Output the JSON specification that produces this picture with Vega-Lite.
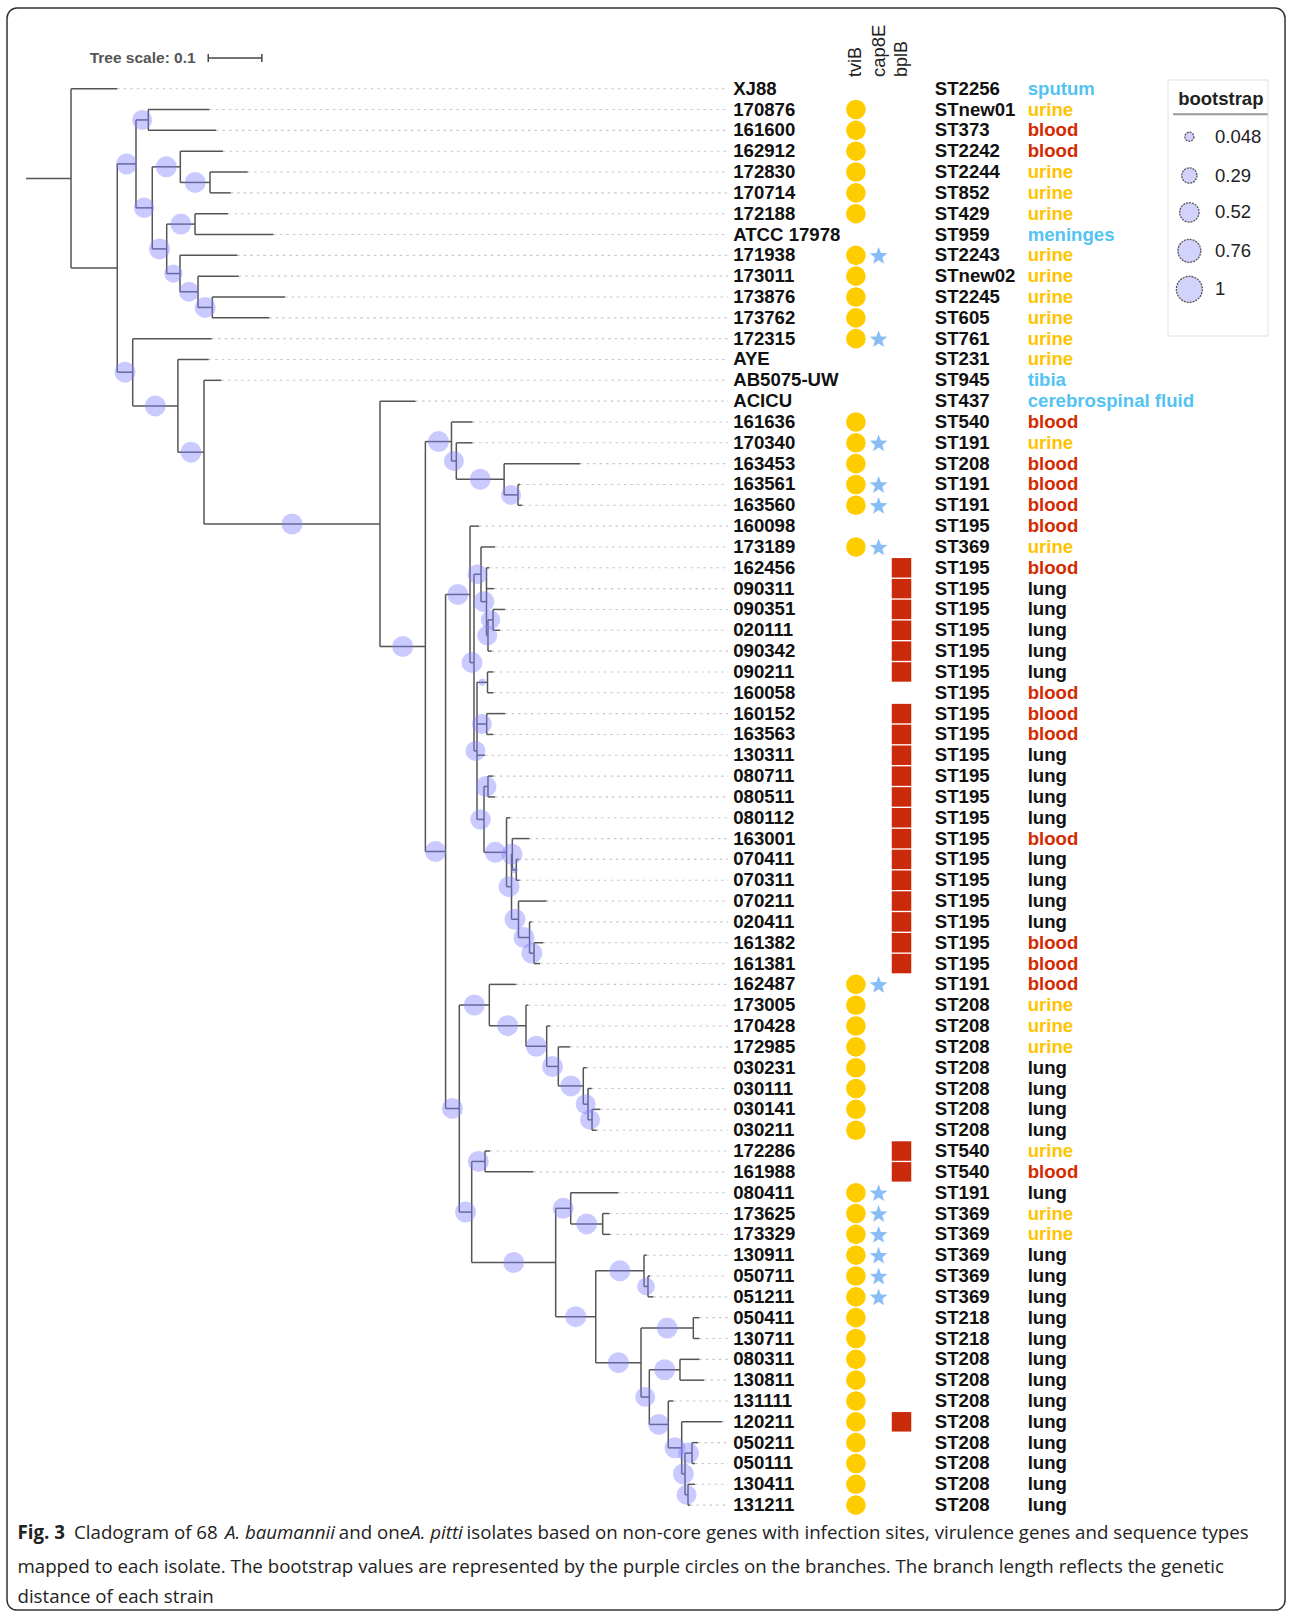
{
"$schema":"https://vega.github.io/schema/vega-lite/v6.json",
"width":1292,"height":1617,"autosize":{"type":"fit","contains":"padding"},"padding":0,
"background":"white",
"config":{"view":{"stroke":null}},
"datasets":{
"leaves":[
{"i":0,"name":"XJ88","px":0.084,"x":0.1703,"t":0,"c":0,"b":0,"st":"ST2256","site":"sputum"},
{"i":1,"name":"170876","px":0.2282,"x":0.342,"t":1,"c":0,"b":0,"st":"STnew01","site":"urine"},
{"i":2,"name":"161600","px":0.2282,"x":0.3545,"t":1,"c":0,"b":0,"st":"ST373","site":"blood"},
{"i":3,"name":"162912","px":0.2879,"x":0.3675,"t":1,"c":0,"b":0,"st":"ST2242","site":"blood"},
{"i":4,"name":"172830","px":0.3433,"x":0.4136,"t":1,"c":0,"b":0,"st":"ST2244","site":"urine"},
{"i":5,"name":"170714","px":0.3433,"x":0.3819,"t":1,"c":0,"b":0,"st":"ST852","site":"urine"},
{"i":6,"name":"172188","px":0.3153,"x":0.3769,"t":1,"c":0,"b":0,"st":"ST429","site":"urine"},
{"i":7,"name":"ATCC 17978","px":0.3153,"x":0.4614,"t":0,"c":0,"b":0,"st":"ST959","site":"meninges"},
{"i":8,"name":"171938","px":0.2873,"x":0.3942,"t":1,"c":1,"b":0,"st":"ST2243","site":"urine"},
{"i":9,"name":"173011","px":0.3209,"x":0.3968,"t":1,"c":0,"b":0,"st":"STnew02","site":"urine"},
{"i":10,"name":"173876","px":0.3476,"x":0.4832,"t":1,"c":0,"b":0,"st":"ST2245","site":"urine"},
{"i":11,"name":"173762","px":0.3476,"x":0.4539,"t":1,"c":0,"b":0,"st":"ST605","site":"urine"},
{"i":12,"name":"172315","px":0.1991,"x":0.3465,"t":1,"c":1,"b":0,"st":"ST761","site":"urine"},
{"i":13,"name":"AYE","px":0.2834,"x":0.3409,"t":0,"c":0,"b":0,"st":"ST231","site":"urine"},
{"i":14,"name":"AB5075-UW","px":0.3321,"x":0.3646,"t":0,"c":0,"b":0,"st":"ST945","site":"tibia"},
{"i":15,"name":"ACICU","px":0.6604,"x":0.7267,"t":0,"c":0,"b":0,"st":"ST437","site":"cerebrospinal fluid"},
{"i":16,"name":"161636","px":0.7938,"x":0.833,"t":1,"c":0,"b":0,"st":"ST540","site":"blood"},
{"i":17,"name":"170340","px":0.8028,"x":0.833,"t":1,"c":1,"b":0,"st":"ST191","site":"urine"},
{"i":18,"name":"163453","px":0.892,"x":1.0336,"t":1,"c":0,"b":0,"st":"ST208","site":"blood"},
{"i":19,"name":"163561","px":0.9179,"x":0.9216,"t":1,"c":1,"b":0,"st":"ST191","site":"blood"},
{"i":20,"name":"163560","px":0.9179,"x":0.9259,"t":1,"c":1,"b":0,"st":"ST191","site":"blood"},
{"i":21,"name":"160098","px":0.8284,"x":0.8451,"t":0,"c":0,"b":0,"st":"ST195","site":"blood"},
{"i":22,"name":"173189","px":0.8489,"x":0.875,"t":1,"c":1,"b":0,"st":"ST369","site":"urine"},
{"i":23,"name":"162456","px":0.8591,"x":0.8638,"t":0,"c":0,"b":1,"st":"ST195","site":"blood"},
{"i":24,"name":"090311","px":0.8591,"x":0.8731,"t":0,"c":0,"b":1,"st":"ST195","site":"lung"},
{"i":25,"name":"090351","px":0.8713,"x":0.8937,"t":0,"c":0,"b":1,"st":"ST195","site":"lung"},
{"i":26,"name":"020111","px":0.8713,"x":0.8843,"t":0,"c":0,"b":1,"st":"ST195","site":"lung"},
{"i":27,"name":"090342","px":0.8619,"x":0.8688,"t":0,"c":0,"b":1,"st":"ST195","site":"lung"},
{"i":28,"name":"090211","px":0.861,"x":0.8718,"t":0,"c":0,"b":1,"st":"ST195","site":"lung"},
{"i":29,"name":"160058","px":0.861,"x":0.8718,"t":0,"c":0,"b":0,"st":"ST195","site":"blood"},
{"i":30,"name":"160152","px":0.8595,"x":0.8937,"t":0,"c":0,"b":1,"st":"ST195","site":"blood"},
{"i":31,"name":"163563","px":0.8595,"x":0.8718,"t":0,"c":0,"b":1,"st":"ST195","site":"blood"},
{"i":32,"name":"130311","px":0.8414,"x":0.8563,"t":0,"c":0,"b":1,"st":"ST195","site":"lung"},
{"i":33,"name":"080711","px":0.8619,"x":0.8718,"t":0,"c":0,"b":1,"st":"ST195","site":"lung"},
{"i":34,"name":"080511","px":0.8619,"x":0.875,"t":0,"c":0,"b":1,"st":"ST195","site":"lung"},
{"i":35,"name":"080112","px":0.8965,"x":0.903,"t":0,"c":0,"b":1,"st":"ST195","site":"lung"},
{"i":36,"name":"163001","px":0.9073,"x":0.939,"t":0,"c":0,"b":1,"st":"ST195","site":"blood"},
{"i":37,"name":"070411","px":0.9147,"x":0.9188,"t":0,"c":0,"b":1,"st":"ST195","site":"lung"},
{"i":38,"name":"070311","px":0.9147,"x":0.9207,"t":0,"c":0,"b":1,"st":"ST195","site":"lung"},
{"i":39,"name":"070211","px":0.9188,"x":0.9714,"t":0,"c":0,"b":1,"st":"ST195","site":"lung"},
{"i":40,"name":"020411","px":0.9394,"x":0.9435,"t":0,"c":0,"b":1,"st":"ST195","site":"lung"},
{"i":41,"name":"161382","px":0.9478,"x":0.9651,"t":0,"c":0,"b":1,"st":"ST195","site":"blood"},
{"i":42,"name":"161381","px":0.9478,"x":0.959,"t":0,"c":0,"b":1,"st":"ST195","site":"blood"},
{"i":43,"name":"162487","px":0.8644,"x":0.9142,"t":1,"c":1,"b":0,"st":"ST191","site":"blood"},
{"i":44,"name":"173005","px":0.9328,"x":0.9371,"t":1,"c":0,"b":0,"st":"ST208","site":"urine"},
{"i":45,"name":"170428","px":0.9714,"x":0.9776,"t":1,"c":0,"b":0,"st":"ST208","site":"urine"},
{"i":46,"name":"172985","px":0.9931,"x":1.0149,"t":1,"c":0,"b":0,"st":"ST208","site":"urine"},
{"i":47,"name":"030231","px":1.0397,"x":1.0461,"t":1,"c":0,"b":0,"st":"ST208","site":"lung"},
{"i":48,"name":"030111","px":1.0485,"x":1.0554,"t":1,"c":0,"b":0,"st":"ST208","site":"lung"},
{"i":49,"name":"030141","px":1.056,"x":1.0709,"t":1,"c":0,"b":0,"st":"ST208","site":"lung"},
{"i":50,"name":"030211","px":1.056,"x":1.0647,"t":1,"c":0,"b":0,"st":"ST208","site":"lung"},
{"i":51,"name":"172286","px":0.8563,"x":0.8657,"t":0,"c":0,"b":1,"st":"ST540","site":"urine"},
{"i":52,"name":"161988","px":0.8563,"x":0.9465,"t":0,"c":0,"b":1,"st":"ST540","site":"blood"},
{"i":53,"name":"080411","px":1.0162,"x":1.105,"t":1,"c":1,"b":0,"st":"ST191","site":"lung"},
{"i":54,"name":"173625","px":1.0759,"x":1.0883,"t":1,"c":1,"b":0,"st":"ST369","site":"urine"},
{"i":55,"name":"173329","px":1.0759,"x":1.0896,"t":1,"c":1,"b":0,"st":"ST369","site":"urine"},
{"i":56,"name":"130911","px":1.153,"x":1.158,"t":1,"c":1,"b":0,"st":"ST369","site":"lung"},
{"i":57,"name":"050711","px":1.1604,"x":1.1642,"t":1,"c":1,"b":0,"st":"ST369","site":"lung"},
{"i":58,"name":"051211","px":1.1604,"x":1.1703,"t":1,"c":1,"b":0,"st":"ST369","site":"lung"},
{"i":59,"name":"050411","px":1.245,"x":1.2562,"t":1,"c":0,"b":0,"st":"ST218","site":"lung"},
{"i":60,"name":"130711","px":1.245,"x":1.2562,"t":1,"c":0,"b":0,"st":"ST218","site":"lung"},
{"i":61,"name":"080311","px":1.2201,"x":1.2562,"t":1,"c":0,"b":0,"st":"ST208","site":"lung"},
{"i":62,"name":"130811","px":1.2201,"x":1.2649,"t":1,"c":0,"b":0,"st":"ST208","site":"lung"},
{"i":63,"name":"131111","px":1.1983,"x":1.2076,"t":1,"c":0,"b":0,"st":"ST208","site":"lung"},
{"i":64,"name":"120211","px":1.2233,"x":1.2985,"t":1,"c":0,"b":1,"st":"ST208","site":"lung"},
{"i":65,"name":"050211","px":1.2425,"x":1.2537,"t":1,"c":0,"b":0,"st":"ST208","site":"lung"},
{"i":66,"name":"050111","px":1.2425,"x":1.2481,"t":1,"c":0,"b":0,"st":"ST208","site":"lung"},
{"i":67,"name":"130411","px":1.2351,"x":1.2481,"t":1,"c":0,"b":0,"st":"ST208","site":"lung"},
{"i":68,"name":"131211","px":1.2351,"x":1.2388,"t":1,"c":0,"b":0,"st":"ST208","site":"lung"}
],
"nodes":[
{"id":"root","px":0,"x":0.084,"y":4.31,"y1":0,"y2":8.61,"bs":null,"cx":null},
{"id":"A","px":0.084,"x":0.1703,"y":8.61,"y1":3.61,"y2":13.61,"bs":null,"cx":null},
{"id":"B","px":0.1703,"x":0.2052,"y":3.61,"y1":1.5,"y2":5.72,"bs":1,"cx":0.1878},
{"id":"B1","px":0.2052,"x":0.2282,"y":1.5,"y1":1,"y2":2,"bs":0.9,"cx":0.2167},
{"id":"B2","px":0.2052,"x":0.2356,"y":5.72,"y1":3.75,"y2":7.69,"bs":0.95,"cx":0.2204},
{"id":"B2a","px":0.2356,"x":0.2879,"y":3.75,"y1":3,"y2":4.5,"bs":1,"cx":0.2618},
{"id":"B2a2","px":0.2879,"x":0.3433,"y":4.5,"y1":4,"y2":5,"bs":1,"cx":0.3156},
{"id":"B2b","px":0.2356,"x":0.2625,"y":7.69,"y1":6.5,"y2":8.875,"bs":1,"cx":0.2491},
{"id":"B2b1","px":0.2625,"x":0.3153,"y":6.5,"y1":6,"y2":7,"bs":1,"cx":0.2889},
{"id":"B2b2","px":0.2625,"x":0.2873,"y":8.875,"y1":8,"y2":9.75,"bs":0.75,"cx":0.2749},
{"id":"B2b2b","px":0.2873,"x":0.3209,"y":9.75,"y1":9,"y2":10.5,"bs":0.9,"cx":0.3041},
{"id":"B2b2c","px":0.3209,"x":0.3476,"y":10.5,"y1":10,"y2":11,"bs":1,"cx":0.3343},
{"id":"C","px":0.1703,"x":0.1991,"y":13.61,"y1":12,"y2":15.23,"bs":1,"cx":0.1847},
{"id":"D","px":0.1991,"x":0.2834,"y":15.23,"y1":13,"y2":17.45,"bs":1,"cx":0.2413},
{"id":"E","px":0.2834,"x":0.3321,"y":17.45,"y1":14,"y2":20.9,"bs":1,"cx":0.3078},
{"id":"F","px":0.3321,"x":0.6604,"y":20.9,"y1":15,"y2":26.78,"bs":1,"cx":0.4963},
{"id":"G","px":0.6604,"x":0.7451,"y":26.78,"y1":16.94,"y2":36.62,"bs":1,"cx":0.7028},
{"id":"H","px":0.7451,"x":0.7938,"y":16.94,"y1":16,"y2":17.875,"bs":1,"cx":0.7695},
{"id":"J","px":0.7938,"x":0.8028,"y":17.875,"y1":17,"y2":18.75,"bs":0.9,"cx":0.7983},
{"id":"K","px":0.8028,"x":0.892,"y":18.75,"y1":18,"y2":19.5,"bs":1,"cx":0.8474},
{"id":"L","px":0.892,"x":0.9179,"y":19.5,"y1":19,"y2":20,"bs":0.9,"cx":0.905},
{"id":"I","px":0.7451,"x":0.7828,"y":36.62,"y1":24.28,"y2":48.96,"bs":1,"cx":0.764},
{"id":"M","px":0.7828,"x":0.8284,"y":24.28,"y1":21,"y2":27.55,"bs":1,"cx":0.8056},
{"id":"N","px":0.8284,"x":0.8358,"y":27.55,"y1":23.31,"y2":31.79,"bs":1,"cx":0.8321},
{"id":"P","px":0.8358,"x":0.8489,"y":23.31,"y1":22,"y2":24.625,"bs":0.9,"cx":0.8424},
{"id":"Q","px":0.8489,"x":0.8591,"y":24.625,"y1":23,"y2":26.25,"bs":1,"cx":0.854},
{"id":"S","px":0.8591,"x":0.8619,"y":26.25,"y1":25.5,"y2":27,"bs":0.9,"cx":0.8605},
{"id":"R","px":0.8619,"x":0.8713,"y":25.5,"y1":25,"y2":26,"bs":0.85,"cx":0.8666},
{"id":"U","px":0.8358,"x":0.8414,"y":31.79,"y1":28.5,"y2":35.08,"bs":0.9,"cx":0.8386},
{"id":"s2","px":0.8414,"x":0.861,"y":28.5,"y1":28,"y2":29,"bs":0.05,"cx":0.8512},
{"id":"V","px":0.8414,"x":0.8595,"y":30.5,"y1":30,"y2":31,"bs":0.9,"cx":0.8505},
{"id":"T","px":0.8414,"x":0.8545,"y":35.08,"y1":33.5,"y2":36.66,"bs":0.95,"cx":0.848},
{"id":"W","px":0.8545,"x":0.8619,"y":33.5,"y1":33,"y2":34,"bs":1,"cx":0.8582},
{"id":"X","px":0.8545,"x":0.8965,"y":36.66,"y1":35,"y2":38.31,"bs":1,"cx":0.8755},
{"id":"Y","px":0.8965,"x":0.9058,"y":38.31,"y1":36.75,"y2":39.875,"bs":1,"cx":0.9012},
{"id":"Z1","px":0.9058,"x":0.9073,"y":36.75,"y1":36,"y2":37.5,"bs":1,"cx":0.9066},
{"id":"Z1b","px":0.9073,"x":0.9147,"y":37.5,"y1":37,"y2":38,"bs":0.05,"cx":0.911},
{"id":"Z2","px":0.9058,"x":0.9188,"y":39.875,"y1":39,"y2":40.75,"bs":1,"cx":0.9123},
{"id":"Z2b","px":0.9188,"x":0.9394,"y":40.75,"y1":40,"y2":41.5,"bs":1,"cx":0.9291},
{"id":"Z2c","px":0.9394,"x":0.9478,"y":41.5,"y1":41,"y2":42,"bs":1,"cx":0.9436},
{"id":"O","px":0.7828,"x":0.8084,"y":48.96,"y1":43.99,"y2":53.93,"bs":1,"cx":0.7956},
{"id":"O1","px":0.8084,"x":0.8644,"y":43.99,"y1":43,"y2":44.98,"bs":1,"cx":0.8364},
{"id":"O1b","px":0.8644,"x":0.9328,"y":44.98,"y1":44,"y2":45.97,"bs":1,"cx":0.8986},
{"id":"O1c","px":0.9328,"x":0.9714,"y":45.97,"y1":45,"y2":46.94,"bs":1,"cx":0.9521},
{"id":"O1d","px":0.9714,"x":0.9931,"y":46.94,"y1":46,"y2":47.875,"bs":1,"cx":0.9823},
{"id":"O1e","px":0.9931,"x":1.0397,"y":47.875,"y1":47,"y2":48.75,"bs":1,"cx":1.0164},
{"id":"O1f","px":1.0397,"x":1.0485,"y":48.75,"y1":48,"y2":49.5,"bs":0.9,"cx":1.0441},
{"id":"O1g","px":1.0485,"x":1.056,"y":49.5,"y1":49,"y2":50,"bs":0.9,"cx":1.0523},
{"id":"O2","px":0.8084,"x":0.8315,"y":53.93,"y1":51.5,"y2":56.35,"bs":1,"cx":0.82},
{"id":"O2a","px":0.8315,"x":0.8563,"y":51.5,"y1":51,"y2":52,"bs":1,"cx":0.8439},
{"id":"O2b","px":0.8315,"x":0.9882,"y":56.35,"y1":53.75,"y2":58.95,"bs":1,"cx":0.9099},
{"id":"P1","px":0.9882,"x":1.0162,"y":53.75,"y1":53,"y2":54.5,"bs":1,"cx":1.0022},
{"id":"P2","px":1.0162,"x":1.0759,"y":54.5,"y1":54,"y2":55,"bs":1,"cx":1.0461},
{"id":"P3","px":0.9882,"x":1.0629,"y":58.95,"y1":56.75,"y2":61.16,"bs":1,"cx":1.0256},
{"id":"P4","px":1.0629,"x":1.153,"y":56.75,"y1":56,"y2":57.5,"bs":1,"cx":1.108},
{"id":"P5","px":1.153,"x":1.1604,"y":57.5,"y1":57,"y2":58,"bs":0.7,"cx":1.1567},
{"id":"P6","px":1.0629,"x":1.1474,"y":61.16,"y1":59.5,"y2":62.81,"bs":1,"cx":1.1052},
{"id":"P7","px":1.1474,"x":1.245,"y":59.5,"y1":59,"y2":60,"bs":1,"cx":1.1962},
{"id":"P8","px":1.1474,"x":1.1629,"y":62.81,"y1":61.5,"y2":64.125,"bs":0.9,"cx":1.1552},
{"id":"P9","px":1.1629,"x":1.2201,"y":61.5,"y1":61,"y2":62,"bs":1,"cx":1.1915},
{"id":"P10","px":1.1629,"x":1.1983,"y":64.125,"y1":63,"y2":65.25,"bs":1,"cx":1.1806},
{"id":"P11","px":1.1983,"x":1.2233,"y":65.25,"y1":64,"y2":66.5,"bs":1,"cx":1.2108},
{"id":"P12","px":1.2233,"x":1.2295,"y":66.5,"y1":65.5,"y2":67.5,"bs":1,"cx":1.2264},
{"id":"P13","px":1.2295,"x":1.2425,"y":65.5,"y1":65,"y2":66,"bs":1,"cx":1.236},
{"id":"P14","px":1.2295,"x":1.2351,"y":67.5,"y1":67,"y2":68,"bs":0.9,"cx":1.2323}
],
"legend":[
{"value":0.048,"label":"0.048"},{"value":0.29,"label":"0.29"},{"value":0.52,"label":"0.52"},{"value":0.76,"label":"0.76"},{"value":1,"label":"1"}
]
},
"layer":[
{"layer":[
{"data":{"values":[{}]},"mark":{"type":"rect","fill":"white","stroke":"#333333","strokeWidth":1.5,"cornerRadius":10},
 "encoding":{"x":{"datum":-0.0354,"type":"quantitative","scale":{"domain":[-0.0485,2.3619],"nice":false,"zero":false},"axis":null},"x2":{"datum":2.3489},
 "y":{"datum":-3.874,"type":"quantitative","scale":{"domain":[-4.2583,73.3701],"nice":false,"zero":false,"reverse":true},"axis":null},"y2":{"datum":73.04}}},
{"data":{"name":"leaves"},"mark":{"type":"rule","stroke":"#c8c8c8","strokeWidth":1.1,"strokeDash":[2.5,4]},
 "encoding":{"x":{"field":"x","type":"quantitative","scale":{"domain":[-0.0485,2.3619],"nice":false,"zero":false},"axis":null},"x2":{"datum":1.3097},
 "y":{"field":"i","type":"quantitative","scale":{"domain":[-4.2583,73.3701],"nice":false,"zero":false,"reverse":true},"axis":null}}},
{"data":{"name":"leaves"},"mark":{"type":"rule","stroke":"#555555","strokeWidth":1.5},
 "encoding":{"x":{"field":"px","type":"quantitative","scale":{"domain":[-0.0485,2.3619],"nice":false,"zero":false},"axis":null},"x2":{"field":"x"},
 "y":{"field":"i","type":"quantitative","scale":{"domain":[-4.2583,73.3701],"nice":false,"zero":false,"reverse":true},"axis":null}}},
{"data":{"name":"nodes"},"mark":{"type":"rule","stroke":"#555555","strokeWidth":1.5},
 "encoding":{"x":{"field":"px","type":"quantitative","scale":{"domain":[-0.0485,2.3619],"nice":false,"zero":false},"axis":null},"x2":{"field":"x"},
 "y":{"field":"y","type":"quantitative","scale":{"domain":[-4.2583,73.3701],"nice":false,"zero":false,"reverse":true},"axis":null}}},
{"data":{"name":"nodes"},"mark":{"type":"rule","stroke":"#555555","strokeWidth":1.5},
 "encoding":{"x":{"field":"x","type":"quantitative","scale":{"domain":[-0.0485,2.3619],"nice":false,"zero":false},"axis":null},
 "y":{"field":"y1","type":"quantitative","scale":{"domain":[-4.2583,73.3701],"nice":false,"zero":false,"reverse":true},"axis":null},"y2":{"field":"y2"}}},
{"data":{"name":"nodes"},"transform":[{"filter":"datum.bs != null"}],"mark":{"type":"circle","fill":"#8080ff","opacity":0.42,"strokeWidth":0},
 "encoding":{"x":{"field":"cx","type":"quantitative","scale":{"domain":[-0.0485,2.3619],"nice":false,"zero":false},"axis":null},
 "y":{"field":"y","type":"quantitative","scale":{"domain":[-4.2583,73.3701],"nice":false,"zero":false,"reverse":true},"axis":null},
 "size":{"field":"bs","type":"quantitative","scale":{"domain":[0,1],"range":[28,441]},"legend":null}}},
{"data":{"name":"leaves"},"transform":[{"filter":"datum.t == 1"}],"mark":{"type":"circle","fill":"#FFCC00","opacity":1,"size":384},
 "encoding":{"x":{"datum":1.5483,"type":"quantitative","scale":{"domain":[-0.0485,2.3619],"nice":false,"zero":false},"axis":null},
 "y":{"field":"i","type":"quantitative","scale":{"domain":[-4.2583,73.3701],"nice":false,"zero":false,"reverse":true},"axis":null}}},
{"data":{"name":"leaves"},"transform":[{"filter":"datum.c == 1"}],"mark":{"type":"point","shape":"M0,-0.905L0.247,-0.245L0.951,-0.214L0.4,0.225L0.588,0.904L0,0.515L-0.588,0.904L-0.4,0.225L-0.951,-0.214L-0.247,-0.245Z","filled":true,"fill":"#88BEF5","opacity":1,"size":346,"strokeWidth":0},
 "encoding":{"x":{"datum":1.5907,"type":"quantitative","scale":{"domain":[-0.0485,2.3619],"nice":false,"zero":false},"axis":null},
 "y":{"field":"i","type":"quantitative","scale":{"domain":[-4.2583,73.3701],"nice":false,"zero":false,"reverse":true},"axis":null}}},
{"data":{"name":"leaves"},"transform":[{"filter":"datum.b == 1"}],"mark":{"type":"square","fill":"#C92A0A","opacity":1,"size":380,"strokeWidth":0},
 "encoding":{"x":{"datum":1.6334,"type":"quantitative","scale":{"domain":[-0.0485,2.3619],"nice":false,"zero":false},"axis":null},
 "y":{"field":"i","type":"quantitative","scale":{"domain":[-4.2583,73.3701],"nice":false,"zero":false,"reverse":true},"axis":null}}},
{"data":{"name":"leaves"},"mark":{"type":"text","align":"left","baseline":"middle","font":"Liberation Sans","fontWeight":"bold","fontSize":18.6,"fill":"#111111"},
 "encoding":{"x":{"datum":1.3194,"type":"quantitative","scale":{"domain":[-0.0485,2.3619],"nice":false,"zero":false},"axis":null},
 "y":{"field":"i","type":"quantitative","scale":{"domain":[-4.2583,73.3701],"nice":false,"zero":false,"reverse":true},"axis":null},"text":{"field":"name"}}},
{"data":{"name":"leaves"},"mark":{"type":"text","align":"left","baseline":"middle","font":"Liberation Sans","fontWeight":"bold","fontSize":18.6,"fill":"#111111"},
 "encoding":{"x":{"datum":1.6955,"type":"quantitative","scale":{"domain":[-0.0485,2.3619],"nice":false,"zero":false},"axis":null},
 "y":{"field":"i","type":"quantitative","scale":{"domain":[-4.2583,73.3701],"nice":false,"zero":false,"reverse":true},"axis":null},"text":{"field":"st"}}},
{"data":{"name":"leaves"},"mark":{"type":"text","align":"left","baseline":"middle","font":"Liberation Sans","fontWeight":"bold","fontSize":18.6},
 "encoding":{"x":{"datum":1.8688,"type":"quantitative","scale":{"domain":[-0.0485,2.3619],"nice":false,"zero":false},"axis":null},
 "y":{"field":"i","type":"quantitative","scale":{"domain":[-4.2583,73.3701],"nice":false,"zero":false,"reverse":true},"axis":null},"text":{"field":"site"},
 "color":{"field":"site","type":"nominal","scale":{"domain":["sputum","urine","blood","meninges","tibia","cerebrospinal fluid","lung"],"range":["#52C3F2","#FFC400","#D42A00","#52C3F2","#52C3F2","#52C3F2","#111111"]},"legend":null}}},
{"data":{"values":[{}]},"mark":{"type":"text","text":"tviB","angle":270,"align":"left","baseline":"middle","font":"Liberation Sans","fontSize":18,"fill":"#222222"},
 "encoding":{"x":{"datum":1.5483,"type":"quantitative","scale":{"domain":[-0.0485,2.3619],"nice":false,"zero":false},"axis":null},
 "y":{"datum":-0.5617,"type":"quantitative","scale":{"domain":[-4.2583,73.3701],"nice":false,"zero":false,"reverse":true},"axis":null}}},
{"data":{"values":[{}]},"mark":{"type":"text","text":"cap8E","angle":270,"align":"left","baseline":"middle","font":"Liberation Sans","fontSize":18.5,"fill":"#222222"},
 "encoding":{"x":{"datum":1.5907,"type":"quantitative","scale":{"domain":[-0.0485,2.3619],"nice":false,"zero":false},"axis":null},
 "y":{"datum":-0.5617,"type":"quantitative","scale":{"domain":[-4.2583,73.3701],"nice":false,"zero":false,"reverse":true},"axis":null}}},
{"data":{"values":[{}]},"mark":{"type":"text","text":"bplB","angle":270,"align":"left","baseline":"middle","font":"Liberation Sans","fontSize":18,"fill":"#222222"},
 "encoding":{"x":{"datum":1.6334,"type":"quantitative","scale":{"domain":[-0.0485,2.3619],"nice":false,"zero":false},"axis":null},
 "y":{"datum":-0.5617,"type":"quantitative","scale":{"domain":[-4.2583,73.3701],"nice":false,"zero":false,"reverse":true},"axis":null}}},
{"data":{"values":[{}]},"mark":{"type":"text","text":"Tree scale: 0.1","align":"left","baseline":"alphabetic","font":"Liberation Sans","fontWeight":"bold","fontSize":15.5,"fill":"#555555"},
 "encoding":{"x":{"datum":0.1188,"type":"quantitative","scale":{"domain":[-0.0485,2.3619],"nice":false,"zero":false},"axis":null},
 "y":{"datum":-1.2291,"type":"quantitative","scale":{"domain":[-4.2583,73.3701],"nice":false,"zero":false,"reverse":true},"axis":null}}},
{"data":{"values":[{}]},"mark":{"type":"rule","stroke":"#444444","strokeWidth":1.5},
 "encoding":{"x":{"datum":0.34,"type":"quantitative","scale":{"domain":[-0.0485,2.3619],"nice":false,"zero":false},"axis":null},"x2":{"datum":0.44},
 "y":{"datum":-1.4739,"type":"quantitative","scale":{"domain":[-4.2583,73.3701],"nice":false,"zero":false,"reverse":true},"axis":null}}},
{"data":{"values":[{"t":0.34},{"t":0.44}]},"mark":{"type":"rule","stroke":"#444444","strokeWidth":1.5},
 "encoding":{"x":{"field":"t","type":"quantitative","scale":{"domain":[-0.0485,2.3619],"nice":false,"zero":false},"axis":null},
 "y":{"datum":-1.67,"type":"quantitative","scale":{"domain":[-4.2583,73.3701],"nice":false,"zero":false,"reverse":true},"axis":null},"y2":{"datum":-1.28}}},
{"data":{"values":[{}]},"mark":{"type":"rect","fill":"white","stroke":"#ececec","strokeWidth":1.5},
 "encoding":{"x":{"datum":2.1306,"type":"quantitative","scale":{"domain":[-0.0485,2.3619],"nice":false,"zero":false},"axis":null},"x2":{"datum":2.3172},
 "y":{"datum":-0.4177,"type":"quantitative","scale":{"domain":[-4.2583,73.3701],"nice":false,"zero":false,"reverse":true},"axis":null},"y2":{"datum":11.872}}},
{"data":{"values":[{}]},"mark":{"type":"text","text":"bootstrap","align":"center","baseline":"alphabetic","font":"Liberation Sans","fontWeight":"bold","fontSize":18.5,"fill":"#222222"},
 "encoding":{"x":{"datum":2.2291,"type":"quantitative","scale":{"domain":[-0.0485,2.3619],"nice":false,"zero":false},"axis":null},
 "y":{"datum":0.7825,"type":"quantitative","scale":{"domain":[-4.2583,73.3701],"nice":false,"zero":false,"reverse":true},"axis":null}}},
{"data":{"values":[{}]},"mark":{"type":"rule","stroke":"#9a9a9a","strokeWidth":2},
 "encoding":{"x":{"datum":2.1399,"type":"quantitative","scale":{"domain":[-0.0485,2.3619],"nice":false,"zero":false},"axis":null},"x2":{"datum":2.3166},
 "y":{"datum":1.229,"type":"quantitative","scale":{"domain":[-4.2583,73.3701],"nice":false,"zero":false,"reverse":true},"axis":null}}},
{"data":{"values":[{}]},"mark":{"type":"text","text":"Fig. 3","align":"left","baseline":"alphabetic","font":"Open Sans","fontWeight":"bold","fontSize":18.7,"fill":"#222222"},
 "encoding":{"x":{"datum":-0.0159,"type":"quantitative","scale":{"domain":[-0.0485,2.3619],"nice":false,"zero":false},"axis":null},
 "y":{"datum":69.626,"type":"quantitative","scale":{"domain":[-4.2583,73.3701],"nice":false,"zero":false,"reverse":true},"axis":null}}},
{"data":{"values":[{}]},"mark":{"type":"text","text":"Cladogram of 68","align":"left","baseline":"alphabetic","font":"Open Sans","fontSize":18.7,"fill":"#222222"},
 "encoding":{"x":{"datum":0.0896,"type":"quantitative","scale":{"domain":[-0.0485,2.3619],"nice":false,"zero":false},"axis":null},
 "y":{"datum":69.626,"type":"quantitative","scale":{"domain":[-4.2583,73.3701],"nice":false,"zero":false,"reverse":true},"axis":null}}},
{"data":{"values":[{}]},"mark":{"type":"text","text":"A. baumannii","align":"left","baseline":"alphabetic","font":"Open Sans","fontStyle":"italic","fontSize":18.7,"fill":"#222222"},
 "encoding":{"x":{"datum":0.3711,"type":"quantitative","scale":{"domain":[-0.0485,2.3619],"nice":false,"zero":false},"axis":null},
 "y":{"datum":69.626,"type":"quantitative","scale":{"domain":[-4.2583,73.3701],"nice":false,"zero":false,"reverse":true},"axis":null}}},
{"data":{"values":[{}]},"mark":{"type":"text","text":"and one","align":"left","baseline":"alphabetic","font":"Open Sans","fontSize":18.7,"fill":"#222222"},
 "encoding":{"x":{"datum":0.5837,"type":"quantitative","scale":{"domain":[-0.0485,2.3619],"nice":false,"zero":false},"axis":null},
 "y":{"datum":69.626,"type":"quantitative","scale":{"domain":[-4.2583,73.3701],"nice":false,"zero":false,"reverse":true},"axis":null}}},
{"data":{"values":[{}]},"mark":{"type":"text","text":"A. pitti","align":"left","baseline":"alphabetic","font":"Open Sans","fontStyle":"italic","fontSize":18.7,"fill":"#222222"},
 "encoding":{"x":{"datum":0.7169,"type":"quantitative","scale":{"domain":[-0.0485,2.3619],"nice":false,"zero":false},"axis":null},
 "y":{"datum":69.626,"type":"quantitative","scale":{"domain":[-4.2583,73.3701],"nice":false,"zero":false,"reverse":true},"axis":null}}},
{"data":{"values":[{}]},"mark":{"type":"text","text":"isolates based on non-core genes with infection sites, virulence genes and sequence types","align":"left","baseline":"alphabetic","font":"Open Sans","fontSize":18.7,"fill":"#222222"},
 "encoding":{"x":{"datum":0.822,"type":"quantitative","scale":{"domain":[-0.0485,2.3619],"nice":false,"zero":false},"axis":null},
 "y":{"datum":69.626,"type":"quantitative","scale":{"domain":[-4.2583,73.3701],"nice":false,"zero":false,"reverse":true},"axis":null}}},
{"data":{"values":[{}]},"mark":{"type":"text","text":"mapped to each isolate. The bootstrap values are represented by the purple circles on the branches. The branch length reflects the genetic","align":"left","baseline":"alphabetic","font":"Open Sans","fontSize":18.7,"fill":"#222222"},
 "encoding":{"x":{"datum":-0.0159,"type":"quantitative","scale":{"domain":[-0.0485,2.3619],"nice":false,"zero":false},"axis":null},
 "y":{"datum":71.25,"type":"quantitative","scale":{"domain":[-4.2583,73.3701],"nice":false,"zero":false,"reverse":true},"axis":null}}},
{"data":{"values":[{}]},"mark":{"type":"text","text":"distance of each strain","align":"left","baseline":"alphabetic","font":"Open Sans","fontSize":18.7,"fill":"#222222"},
 "encoding":{"x":{"datum":-0.0159,"type":"quantitative","scale":{"domain":[-0.0485,2.3619],"nice":false,"zero":false},"axis":null},
 "y":{"datum":72.7,"type":"quantitative","scale":{"domain":[-4.2583,73.3701],"nice":false,"zero":false,"reverse":true},"axis":null}}}
]},
{"data":{"name":"legend"},"layer":[
{"mark":{"type":"circle","fill":"#d2d2fa","stroke":"#555555","strokeWidth":1.3,"strokeDash":[2,1],"opacity":1},
 "encoding":{"x":{"datum":2.1704,"type":"quantitative","scale":{"domain":[-0.0485,2.3619],"nice":false,"zero":false},"axis":null},
 "y":{"field":"value","type":"quantitative","scale":{"domain":[-0.8048,9.282],"nice":false,"zero":false,"reverse":true},"axis":null},
 "size":{"field":"value","type":"quantitative","scale":{"domain":[0,1],"range":[51,676]},"legend":null}}},
{"mark":{"type":"text","align":"left","baseline":"middle","font":"Liberation Sans","fontSize":18.5,"fill":"#222222"},
 "encoding":{"x":{"datum":2.2183,"type":"quantitative","scale":{"domain":[-0.0485,2.3619],"nice":false,"zero":false},"axis":null},
 "y":{"field":"value","type":"quantitative","scale":{"domain":[-0.8048,9.282],"nice":false,"zero":false,"reverse":true},"axis":null},
 "text":{"field":"label"}}}
]}
],
"resolve":{"scale":{"y":"independent","size":"independent"}}
}
